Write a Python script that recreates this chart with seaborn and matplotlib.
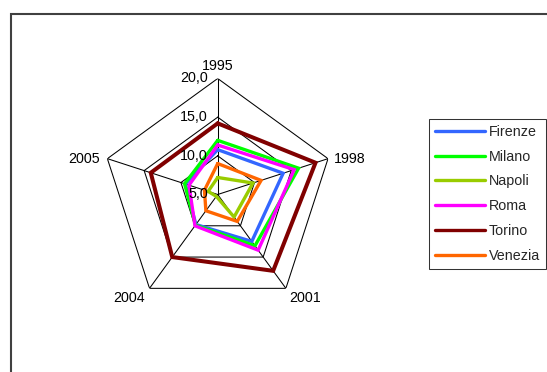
import numpy as np
import pandas as pd
import matplotlib
matplotlib.use("Agg")
import matplotlib.pyplot as plt
from matplotlib.lines import Line2D
from matplotlib.patches import Rectangle
import seaborn as sns

# Data: average values per city and year
years = ["1995", "1998", "2001", "2004", "2005"]
cities = ["Firenze", "Milano", "Napoli", "Roma", "Torino", "Venezia"]
firenze = [10.8, 13.9, 12.5, 9.8, 9.4]
milano = [12.0, 16.0, 13.2, 9.9, 9.5]
napoli = [7.2, 9.8, 8.6, 5.3, 6.3]
roma = [11.4, 15.4, 13.9, 10.0, 8.9]
torino = [14.2, 18.3, 17.2, 15.0, 14.1]
venezia = [9.0, 10.9, 9.3, 7.6, 6.8]
series = [firenze, milano, napoli, roma, torino, venezia]

r_ticks = [5.0, 10.0, 15.0, 20.0]
r_tick_labels = ["5,0", "10,0", "15,0", "20,0"]
colors = ["#3366FF", "#00FF00", "#99CC00", "#FF00FF", "#800000", "#FF6600"]

sns.set_style("white")
plt.rcParams["font.family"] = ["Liberation Sans", "DejaVu Sans"]
FS = 10.3

W, H = 547, 372
fig = plt.figure(figsize=(W / 100, H / 100), dpi=100)
fig.patch.set_facecolor("white")

# chart-area border (left and top edges visible)
fig.add_artist(Rectangle((11 / W, -0.1), 1.2, 1.1 - 14 / H,
                         transform=fig.transFigure, fill=False,
                         edgecolor="#404040", linewidth=1.5))

cx, cy, R = 217.7, 194.5, 116
ax = fig.add_axes([(cx - R) / W, (H - cy - R) / H, 2 * R / W, 2 * R / H],
                  projection="polar")
ax.set_theta_zero_location("N")
ax.set_theta_direction(-1)
ax.patch.set_alpha(0)

n = len(years)
angles = np.arange(n) * 2 * np.pi / n

# long-form table, each polygon closed back to its first year
rows = []
for city, vals in zip(cities, series):
    for i in list(range(n)) + [0]:
        rows.append({"city": city, "theta": angles[i], "value": vals[i]})
df = pd.DataFrame(rows)

sns.lineplot(data=df, x="theta", y="value", hue="city", hue_order=cities,
             palette=colors, sort=False, estimator=None, legend=False,
             ax=ax, linewidth=2.4, zorder=3)
for line, city in zip(ax.lines, cities):
    line.set_solid_joinstyle("miter")
    if city == "Torino":
        line.set_linewidth(2.9)

# polygon grid and spokes
closed = np.append(angles, angles[0])
for rv in [10.0, 15.0, 20.0]:
    ax.plot(closed, [rv] * (n + 1), color="black", lw=0.75, zorder=1)
for a in angles:
    ax.plot([a, a], [5.0, 20.0], color="black", lw=0.75, zorder=1)

ax.grid(False)
ax.spines["polar"].set_visible(False)
ax.set_xticks([])
ax.set_yticks([])
ax.set_ylim(5, 20)
ax.set_xlabel("")
ax.set_ylabel("")

# category labels around the outer ring
label_fmt = [
    ((0, 13), "center", "center"),
    ((6, 0), "left", "center"),
    ((3, -10), "left", "center"),
    ((-5, -10), "right", "center"),
    ((-8, 0), "right", "center"),
]
for a, yr, (off, ha, va) in zip(angles, years, label_fmt):
    ax.annotate(yr, xy=(a, 20), xytext=off, textcoords="offset pixels",
                ha=ha, va=va, fontsize=FS, color="black")

# radial scale labels along the first spoke
for rv, lab in zip(r_ticks, r_tick_labels):
    ax.annotate(lab, xy=(0, rv), xytext=(-10, 0), textcoords="offset pixels",
                ha="right", va="center", fontsize=FS, color="black")

handles = [Line2D([], [], color=c, lw=2.4) for c in colors]
leg = fig.legend(handles, cities, loc="upper left",
                 bbox_to_anchor=(429 / W, 1 - 119 / H),
                 bbox_transform=fig.transFigure, borderaxespad=0,
                 frameon=True, fancybox=False, shadow=False,
                 handlelength=3.5, handletextpad=0.3, labelspacing=0.76,
                 borderpad=0.4, fontsize=FS)
leg.get_frame().set_edgecolor("black")
leg.get_frame().set_linewidth(0.75)

fig.savefig("out.png", dpi=100, facecolor="white")
